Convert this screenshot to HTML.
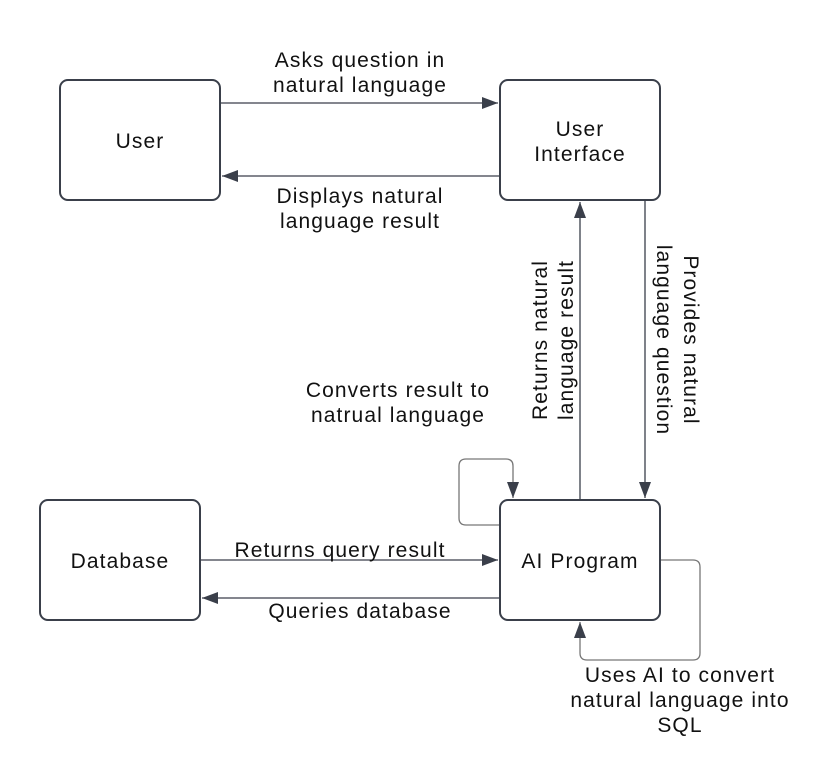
<!DOCTYPE html>
<html><head><style>
body{margin:0;background:#fff;}
text{font-family:"Liberation Sans",sans-serif;font-size:21px;letter-spacing:1.1px;fill:#111;}
</style></head><body>
<svg width="840" height="760" viewBox="0 0 840 760" xmlns="http://www.w3.org/2000/svg">
<defs>
<marker id="b" viewBox="0 0 16 12" refX="16" refY="6" markerWidth="16" markerHeight="12" markerUnits="userSpaceOnUse" orient="auto"><path d="M0,0 L16,6 L0,12 z" fill="#3a3f4a"/></marker></defs>
<g fill="#fff" stroke="#3a3f4a" stroke-width="2">
<rect x="60" y="80" width="160" height="120" rx="8"/>
<rect x="500" y="80" width="160" height="120" rx="8"/>
<rect x="40" y="500" width="160" height="120" rx="8"/>
<rect x="500" y="500" width="160" height="120" rx="8"/>
</g>
<g fill="none" stroke="#3a3f4a" stroke-width="1.3">
<line x1="221" y1="103" x2="498" y2="103" marker-end="url(#b)"/>
<line x1="499" y1="176" x2="222" y2="176" marker-end="url(#b)"/>
<line x1="580" y1="499" x2="580" y2="202" marker-end="url(#b)"/>
<line x1="645" y1="201" x2="645" y2="498" marker-end="url(#b)"/>
<line x1="201" y1="560" x2="498" y2="560" marker-end="url(#b)"/>
<line x1="499" y1="598" x2="202" y2="598" marker-end="url(#b)"/>
<path d="M499,525 H466 Q459,525 459,518 V466 Q459,459 466,459 H506 Q513,459 513,466 V498" stroke="#777" marker-end="url(#b)"/>
<path d="M661,560 H693 Q700,560 700,567 V653 Q700,660 693,660 H587 Q580,660 580,653 V622" stroke="#777" marker-end="url(#b)"/>
</g>
<g text-anchor="middle">
<text x="140" y="148">User</text>
<text x="580" y="136">User</text><text x="580" y="161">Interface</text>
<text x="120" y="568">Database</text>
<text x="580" y="568">AI Program</text>
<text x="360" y="67">Asks question in</text><text x="360" y="92">natural language</text>
<text x="360" y="203">Displays natural</text><text x="360" y="228">language result</text>
<text x="398" y="397">Converts result to</text><text x="398" y="422">natrual language</text>
<text x="340" y="557">Returns query result</text>
<text x="360" y="618">Queries database</text>
<text x="680" y="682">Uses AI to convert</text><text x="680" y="707">natural language into</text><text x="680" y="732">SQL</text>
<g transform="translate(548,340) rotate(-90)"><text x="0" y="-1">Returns natural</text><text x="0" y="25">language result</text></g>
<g transform="translate(676,340) rotate(90)"><text x="0" y="-8">Provides natural</text><text x="0" y="19">language question</text></g>
</g>
</svg>
</body></html>
